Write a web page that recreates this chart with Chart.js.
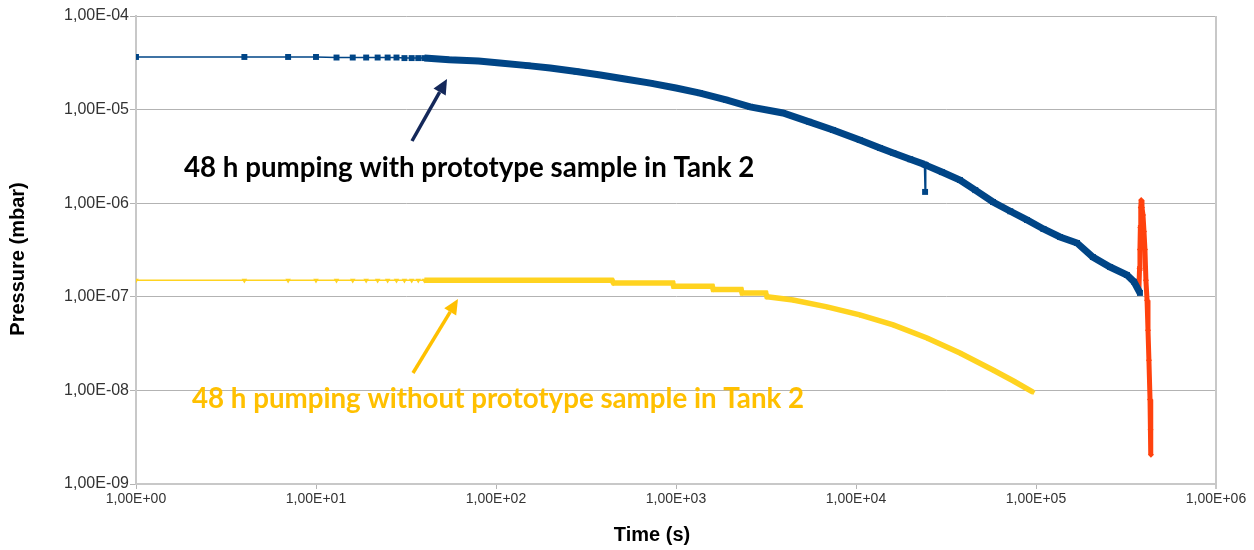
<!DOCTYPE html>
<html>
<head>
<meta charset="utf-8">
<script src="https://cdn.jsdelivr.net/npm/chart.js@4.4.1/dist/chart.umd.min.js"></script>
<style>
  body { margin: 0; background: #ffffff; }
  #wrap { width: 1254px; height: 550px; }
</style>
</head>
<body>
<div id="wrap"><canvas id="pressureChart" width="1254" height="550"></canvas></div>
<script>
// Tank 2 pump-down data (time in s, pressure in mbar)
const withSampleTime = [1, 4, 7, 10, 13, 16, 19, 22, 25, 28, 31, 34, 37, 40, 55, 80, 105, 150, 200, 280, 380, 520, 720, 1000, 1360, 1900, 2580, 3930, 5500, 7450, 10500, 13600, 16100, 20000, 24000, 24200, 24400, 30000, 37800, 46000, 57700, 72000, 89100, 110000, 136000, 169000, 207000, 258000, 320000, 350000, 378000];
const withSamplePressure = [3.65e-5, 3.65e-5, 3.65e-5, 3.65e-5, 3.6e-5, 3.6e-5, 3.6e-5, 3.6e-5, 3.6e-5, 3.6e-5, 3.55e-5, 3.55e-5, 3.55e-5, 3.55e-5, 3.4e-5, 3.3e-5, 3.15e-5, 2.95e-5, 2.78e-5, 2.55e-5, 2.34e-5, 2.12e-5, 1.92e-5, 1.7e-5, 1.5e-5, 1.27e-5, 1.07e-5, 9.2e-6, 7.4e-6, 6.05e-6, 4.73e-6, 3.89e-6, 3.44e-6, 2.95e-6, 2.6e-6, 1.32e-6, 2.55e-6, 2.15e-6, 1.77e-6, 1.38e-6, 1.03e-6, 8.2e-7, 6.62e-7, 5.3e-7, 4.36e-7, 3.76e-7, 2.66e-7, 2.08e-7, 1.71e-7, 1.45e-7, 1.1e-7];

const withoutSampleTime = [1, 4, 7, 10, 13, 16, 19, 22, 25, 28, 31, 34, 37, 40, 441, 450, 960, 970, 1590, 1610, 2300, 2330, 3150, 3200, 4470, 6900, 10500, 16100, 24800, 37800, 57700, 75000, 96200];
const withoutSamplePressure = [1.5e-7, 1.5e-7, 1.5e-7, 1.5e-7, 1.5e-7, 1.5e-7, 1.5e-7, 1.5e-7, 1.5e-7, 1.5e-7, 1.5e-7, 1.5e-7, 1.5e-7, 1.5e-7, 1.5e-7, 1.4e-7, 1.4e-7, 1.3e-7, 1.3e-7, 1.2e-7, 1.2e-7, 1.1e-7, 1.1e-7, 1.0e-7, 9.25e-8, 7.8e-8, 6.4e-8, 5.0e-8, 3.63e-8, 2.51e-8, 1.65e-8, 1.26e-8, 9.6e-9];

const finalTime = [373000, 376000, 378000, 380000, 382000, 384000, 388000, 393000, 398000, 403000, 408000, 414000, 419000, 424000, 430000, 433000, 435000];
const finalPressure = [1.2e-7, 2.0e-7, 3.2e-7, 5.5e-7, 9.0e-7, 1.08e-6, 9.0e-7, 7.5e-7, 5.0e-7, 3.2e-7, 1.5e-7, 9.2e-8, 4.4e-8, 2.1e-8, 8e-9, 3.8e-9, 2.05e-9];

const xTicks = [1, 10, 100, 1000, 10000, 100000, 1000000];
const yTicks = [1e-9, 1e-8, 1e-7, 1e-6, 1e-5, 1e-4];

function toPoints(xs, ys) {
    return xs.map((x, i) => ({ x: x, y: ys[i] }));
}

// "1,00E-04" style labels
function sciLabel(v) {
    const parts = Number(v).toExponential(2).split('e');
    const exp = parseInt(parts[1], 10);
    return parts[0].replace('.', ',') + 'E' + (exp < 0 ? '-' : '+') + String(Math.abs(exp)).padStart(2, '0');
}

// thin line where the logger points are sparse (and on the glitch), thick band where they pile up
function bandWidth(thin, thick) {
    return function(ctx) {
        const jump = Math.abs(Math.log10(ctx.p0.parsed.y / ctx.p1.parsed.y));
        if (ctx.p0.parsed.x < 40 || jump > 0.28) return thin;
        return thick;
    };
}

const notesPlugin = {
    id: 'notes',
    afterDraw(chart) {
        const c = chart.ctx;
        const area = chart.chartArea;
        c.save();

        // right frame line
        c.strokeStyle = '#c8c8c8';
        c.lineWidth = 2;
        c.beginPath();
        c.moveTo(area.right, area.top);
        c.lineTo(area.right, area.bottom + 5);
        c.stroke();

        // axis titles
        c.fillStyle = '#000000';
        c.font = 'bold 20px "Liberation Sans", Arial, sans-serif';
        c.textAlign = 'center';
        c.textBaseline = 'middle';
        c.fillText('Time (s)', 652, 535);
        c.save();
        c.translate(18, 259);
        c.rotate(-Math.PI / 2);
        c.fillText('Pressure (mbar)', 0, 0);
        c.restore();

        // arrows
        drawArrow(c, 412, 141, 447, 79, '#14285a');
        drawArrow(c, 413, 373, 458, 299, '#ffc000');

        // labels
        c.textAlign = 'left';
        c.textBaseline = 'alphabetic';
        c.font = 'bold 27.7px Lato, "Open Sans", sans-serif';
        c.fillStyle = '#000000';
        c.fillText('48 h pumping with prototype sample in Tank 2', 184, 177);
        c.fillStyle = '#ffc000';
        c.fillText('48 h pumping without prototype sample in Tank 2', 192, 408);

        c.restore();
    }
};

function drawArrow(c, x1, y1, x2, y2, color) {
    const ang = Math.atan2(y2 - y1, x2 - x1);
    const headLen = 15, headHalf = 7;
    const bx = x2 - headLen * Math.cos(ang);
    const by = y2 - headLen * Math.sin(ang);
    c.strokeStyle = color;
    c.fillStyle = color;
    c.lineWidth = 3.5;
    c.beginPath();
    c.moveTo(x1, y1);
    c.lineTo(bx, by);
    c.stroke();
    c.beginPath();
    c.moveTo(x2, y2);
    c.lineTo(bx + headHalf * Math.sin(ang), by - headHalf * Math.cos(ang));
    c.lineTo(bx - headHalf * Math.sin(ang), by + headHalf * Math.cos(ang));
    c.closePath();
    c.fill();
}

document.addEventListener('DOMContentLoaded', function() {
    const ctx = document.getElementById('pressureChart');

    new Chart(ctx, {
        type: 'scatter',
        data: {
            datasets: [
                {
                    label: 'with sample',
                    data: toPoints(withSampleTime, withSamplePressure),
                    showLine: true,
                    borderColor: '#004586',
                    backgroundColor: '#004586',
                    borderWidth: 1.5,
                    pointStyle: 'rect',
                    pointRadius: 4.2,
                    pointBorderWidth: 0,
                    segment: { borderWidth: bandWidth(1.5, 7) }
                },
                {
                    label: 'without sample',
                    data: toPoints(withoutSampleTime, withoutSamplePressure),
                    showLine: true,
                    borderColor: '#ffd320',
                    backgroundColor: '#ffd320',
                    borderWidth: 1.5,
                    pointStyle: 'triangle',
                    rotation: 180,
                    pointRadius: 3.2,
                    pointBorderWidth: 0,
                    segment: { borderWidth: bandWidth(1.5, 5.5) }
                },
                {
                    label: 'final',
                    data: toPoints(finalTime, finalPressure),
                    showLine: true,
                    borderColor: '#ff420e',
                    backgroundColor: '#ff420e',
                    borderWidth: 5,
                    pointStyle: 'rectRot',
                    pointRadius: 3,
                    pointBorderWidth: 0
                }
            ]
        },
        options: {
            responsive: false,
            animation: false,
            layout: { padding: { top: 16, right: 38, left: 0, bottom: 0 } },
            scales: {
                x: {
                    type: 'logarithmic',
                    min: 1,
                    max: 1000000,
                    afterBuildTicks: function(scale) {
                        scale.ticks = xTicks.map(v => ({ value: v }));
                    },
                    afterFit: function(scale) { scale.height = 66; },
                    ticks: {
                        callback: v => sciLabel(v),
                        autoSkip: false,
                        maxRotation: 0,
                        padding: 2,
                        color: '#333333',
                        font: { family: '"Liberation Sans", Arial, sans-serif', size: 14 }
                    },
                    grid: { drawOnChartArea: false, tickLength: 5, color: '#b3b3b3' },
                    border: { color: '#c8c8c8', width: 2 }
                },
                y: {
                    type: 'logarithmic',
                    min: 1e-9,
                    max: 1e-4,
                    afterBuildTicks: function(scale) {
                        scale.ticks = yTicks.map(v => ({ value: v }));
                    },
                    afterFit: function(scale) { scale.width = 136; },
                    ticks: {
                        callback: v => sciLabel(v),
                        autoSkip: false,
                        padding: 1,
                        color: '#333333',
                        font: { family: '"Liberation Sans", Arial, sans-serif', size: 16 }
                    },
                    grid: { color: '#b3b3b3', tickLength: 6, lineWidth: 1 },
                    border: { color: '#c8c8c8', width: 2 }
                }
            },
            plugins: {
                legend: { display: false },
                tooltip: { enabled: false }
            }
        },
        plugins: [notesPlugin]
    });
});
</script>
</body>
</html>
